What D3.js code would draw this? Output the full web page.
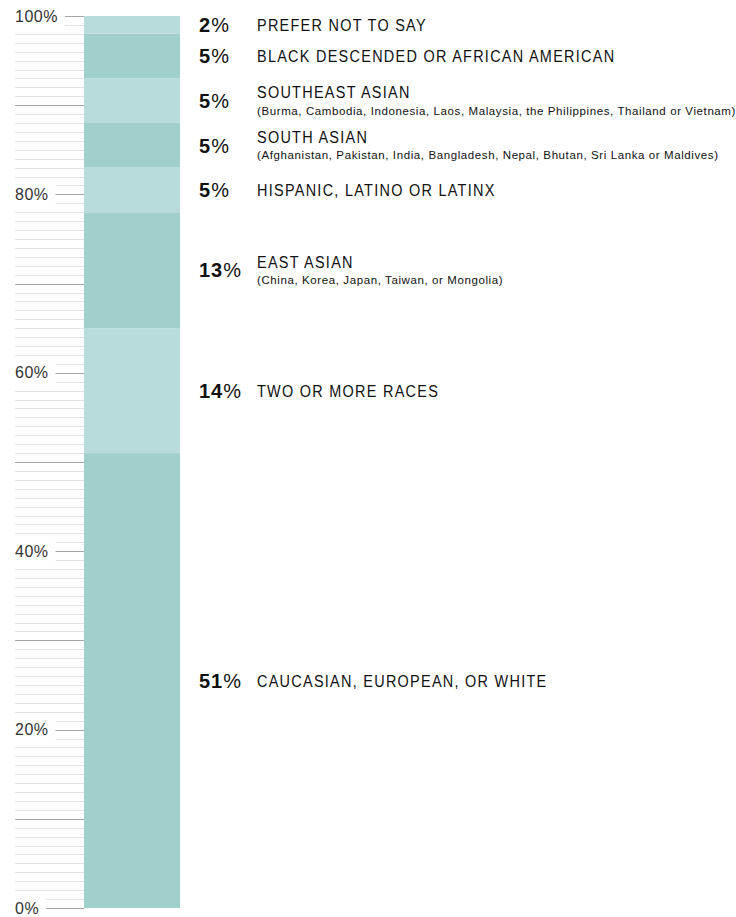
<!DOCTYPE html>
<html>
<head>
<meta charset="utf-8">
<script src="https://cdn.jsdelivr.net/npm/d3@7"></script>
<style>
  html, body { margin: 0; padding: 0; background: #fff; }
  svg { display: block; }
</style>
</head>
<body>
<div id="chart"></div>
<script>
// Data, bottom to top
const categories = [
  'CAUCASIAN, EUROPEAN, OR WHITE',
  'TWO OR MORE RACES',
  'EAST ASIAN',
  'HISPANIC, LATINO OR LATINX',
  'SOUTH ASIAN',
  'SOUTHEAST ASIAN',
  'BLACK DESCENDED OR AFRICAN AMERICAN',
  'PREFER NOT TO SAY'
];
const subtitles = [
  '', '', '(China, Korea, Japan, Taiwan, or Mongolia)', '',
  '(Afghanistan, Pakistan, India, Bangladesh, Nepal, Bhutan, Sri Lanka or Maldives)',
  '(Burma, Cambodia, Indonesia, Laos, Malaysia, the Philippines, Thailand or Vietnam)',
  '', ''
];
const shares = [51, 14, 13, 5, 5, 5, 5, 2];
const axisLabels = [0, 20, 40, 60, 80, 100];

const W = 736, H = 917;
const svg = d3.select('#chart').append('svg')
  .attr('width', W).attr('height', H);

const y = d3.scaleLinear().domain([0, 100]).range([908, 16]);
const barX0 = 84, barX1 = 180;
const font = '"Liberation Sans", Arial, sans-serif';

// stack
let acc = 0;
const stacked = shares.map((v, i) => {
  const d = { i, v, y0: acc, y1: acc + v, cat: categories[i], sub: subtitles[i] };
  acc += v;
  return d;
});

// Axis labels (measure to shorten nearby grid lines)
const labelG = svg.append('g');
const labelEnd = {};
axisLabels.forEach(t => {
  const txt = labelG.append('text')
    .attr('x', 15)
    .attr('y', y(t))
    .attr('dy', '0.35em')
    .style('font-family', font)
    .style('font-size', '16px')
    .style('letter-spacing', '0.5px')
    .style('fill', '#333')
    .text(t + '%');
  labelEnd[t] = 15 + txt.node().getComputedTextLength() + 7;
});

// Grid lines every 1%
const gridVals = d3.range(0, 101, 1);
const startFor = v => {
  for (const t of axisLabels) {
    if (Math.abs(v - t) <= 1) return labelEnd[t];
  }
  return 15;
};
svg.append('g').selectAll('line')
  .data(gridVals)
  .join('line')
  .attr('x1', d => startFor(d))
  .attr('x2', barX0)
  .attr('y1', d => Math.round(y(d)) + 0.5)
  .attr('y2', d => Math.round(y(d)) + 0.5)
  .attr('stroke', d => d % 10 === 0 ? '#a6a6a6' : '#e2e2e2')
  .attr('stroke-width', 1);

// Bar segments
svg.append('g').selectAll('rect')
  .data(stacked)
  .join('rect')
  .attr('x', barX0)
  .attr('width', barX1 - barX0)
  .attr('y', d => y(d.y1))
  .attr('height', d => y(d.y0) - y(d.y1))
  .attr('fill', d => d.i % 2 === 0 ? '#a1d0cc' : '#b8dcda');

// Labels
const lab = svg.append('g').selectAll('g')
  .data(stacked)
  .join('g')
  .attr('transform', d => `translate(0,${y((d.y0 + d.y1) / 2)})`);

const pct = lab.append('text')
  .attr('x', 199)
  .attr('dy', '0.36em')
  .style('font-family', font)
  .style('font-size', '20px')
  .style('letter-spacing', '1px')
  .style('fill', '#111');
pct.append('tspan').style('font-weight', 'bold').text(d => d.v);
pct.append('tspan').style('font-weight', 'normal').text('%');

// condensed look: squeeze the title text horizontally
lab.append('text')
  .attr('transform', 'translate(257,0) scale(0.85,1)')
  .attr('dy', d => d.sub ? '-0.15em' : '0.36em')
  .style('font-family', font)
  .style('font-size', '17px')
  .style('letter-spacing', '1.5px')
  .style('fill', '#111')
  .text(d => d.cat);

lab.filter(d => d.sub).append('text')
  .attr('x', 257)
  .attr('dy', '1.2em')
  .style('font-family', font)
  .style('font-size', '11.5px')
  .style('letter-spacing', '0.6px')
  .style('fill', '#111')
  .text(d => d.sub);
</script>
</body>
</html>
